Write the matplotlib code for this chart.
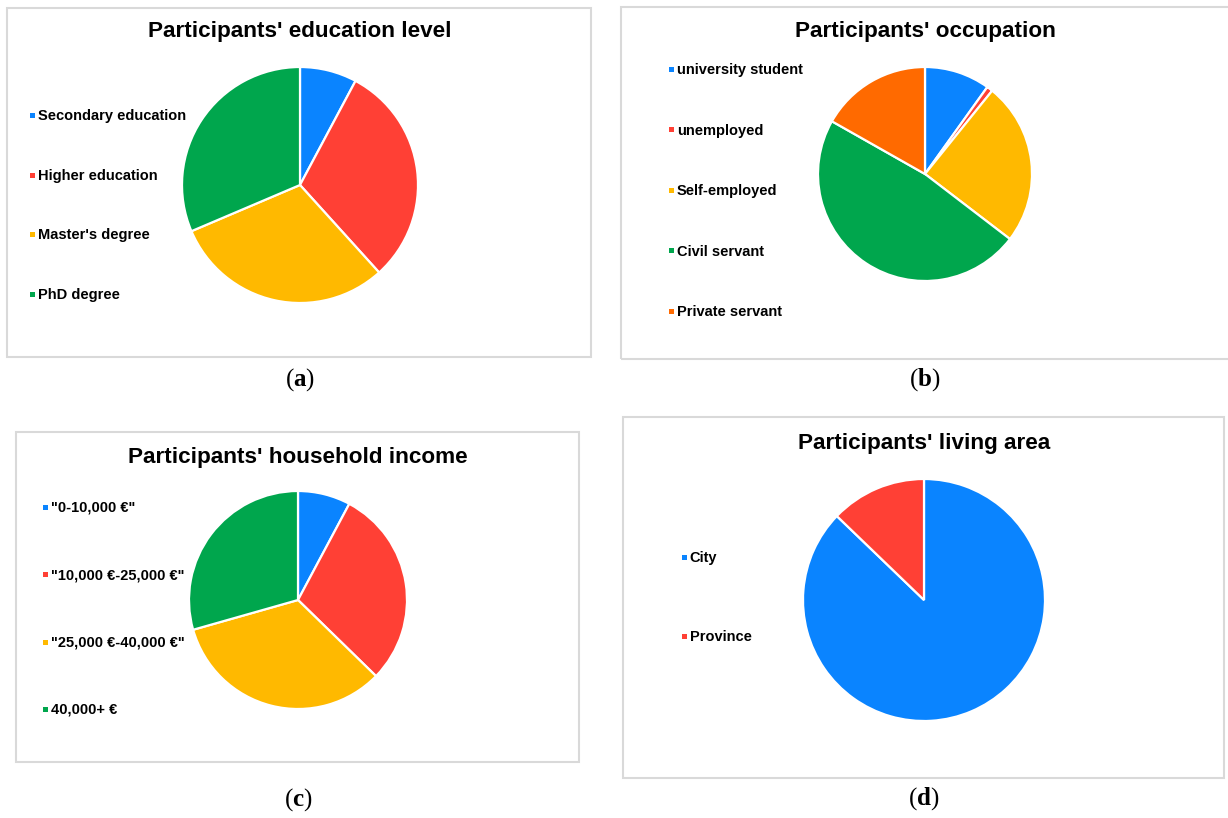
import matplotlib
matplotlib.use('Agg')
import matplotlib.pyplot as plt
from matplotlib.lines import Line2D
from matplotlib.patches import Rectangle

plt.rcParams['font.family'] = 'Liberation Sans'
plt.rcParams['mathtext.fontset'] = 'custom'
plt.rcParams['mathtext.rm'] = 'Liberation Serif'
plt.rcParams['mathtext.bf'] = 'Liberation Serif:bold'

W, H = 1228, 818

# shares in percent, clockwise from 12 o'clock
education_labels = ['Secondary education', 'Higher education', "Master's degree", 'PhD degree']
education_share = [7.8, 30.5, 30.3, 31.4]

occupation_labels = ['university student', 'unemployed', 'Self-employed',
                     'Civil servant', 'Private servant']
occupation_share = [9.9, 0.9, 24.6, 47.8, 16.8]

income_labels = ['"0-10,000 €"', '"10,000 €-25,000 €"', '"25,000 €-40,000 €"', '40,000+ €']
income_share = [7.8, 29.5, 33.3, 29.4]

area_labels = ['City', 'Province']
area_share = [87.2, 12.8]

BLUE = '#0a84ff'
RED = '#ff4035'
YELLOW = '#ffb900'
GREEN = '#00a64d'
ORANGE = '#ff6a00'

TITLE_FS = 16.2
LEGEND_FS = 10.5


def px(x, y):
    """pixel (top-left origin) -> figure fraction"""
    return x / W, 1 - y / H


def draw_panel(fig, title, labels, share, colors, box, title_y, pie_c, pie_r,
               leg_x, leg_rows, letter, cap_y):
    x0, y0, x1, y1 = box
    fig.add_artist(Rectangle(px(x0, y1), (x1 - x0) / W, (y1 - y0) / H,
                             transform=fig.transFigure, fill=False,
                             edgecolor='#d9d9d9', linewidth=1.5))

    cx, cy = pie_c
    fig.text(*px(cx, title_y), title, ha='center', va='center',
             fontsize=TITLE_FS, fontweight='bold')

    # pie axes sized so radius 1 maps to pie_r pixels
    pad = 1.04
    half = pie_r * pad
    l, b = px(cx - half, cy + half)
    ax = fig.add_axes([l, b, 2 * half / W, 2 * half / H])
    ax.pie(share, colors=colors, startangle=90, counterclock=False,
           wedgeprops=dict(edgecolor='white', linewidth=1.6))
    ax.set_xlim(-pad, pad)
    ax.set_ylim(-pad, pad)
    ax.set_axis_off()

    # legend column on the left
    fs_px = LEGEND_FS * 100 / 72
    n = len(labels)
    pitch = (leg_rows[1] - leg_rows[0]) / (n - 1) if n > 1 else 0
    handles = [Line2D([], [], linestyle='none', marker='s', markersize=3.6,
                      markerfacecolor=c, markeredgewidth=0) for c in colors]
    hl = 0.5
    anchor = px(leg_x - hl * fs_px / 2, (leg_rows[0] + leg_rows[1]) / 2)
    fig.legend(handles, labels, loc='center left', bbox_to_anchor=anchor,
               bbox_transform=fig.transFigure, frameon=False, borderpad=0,
               borderaxespad=0, handlelength=hl, handletextpad=0.15,
               labelspacing=(pitch - 0.96 * fs_px) / fs_px,
               prop=dict(size=LEGEND_FS, weight='bold'))

    fig.text(*px(cx, cap_y), '(' + r'$\mathbf{' + letter + '}$' + ')',
             ha='center', va='center', fontsize=18, family='Liberation Serif')


fig = plt.figure(figsize=(W / 100, H / 100), dpi=100, facecolor='white')

draw_panel(fig, "Participants' education level", education_labels, education_share,
           [BLUE, RED, YELLOW, GREEN], box=(7, 8, 591, 357), title_y=32,
           pie_c=(300, 185), pie_r=118, leg_x=32, leg_rows=(116, 295),
           letter='a', cap_y=380)

draw_panel(fig, "Participants' occupation", occupation_labels, occupation_share,
           [BLUE, RED, YELLOW, GREEN, ORANGE], box=(621, 7, 1230, 359), title_y=32,
           pie_c=(925, 174), pie_r=107, leg_x=671, leg_rows=(70, 312),
           letter='b', cap_y=380)

draw_panel(fig, "Participants' household income", income_labels, income_share,
           [BLUE, RED, YELLOW, GREEN], box=(16, 432, 579, 762), title_y=457,
           pie_c=(298, 600), pie_r=109, leg_x=45, leg_rows=(508, 710),
           letter='c', cap_y=800)

draw_panel(fig, "Participants' living area", area_labels, area_share,
           [BLUE, RED], box=(623, 417, 1224, 778), title_y=444,
           pie_c=(924, 600), pie_r=121, leg_x=684, leg_rows=(558, 637),
           letter='d', cap_y=799)

fig.savefig('out.png', dpi=100, facecolor='white')
